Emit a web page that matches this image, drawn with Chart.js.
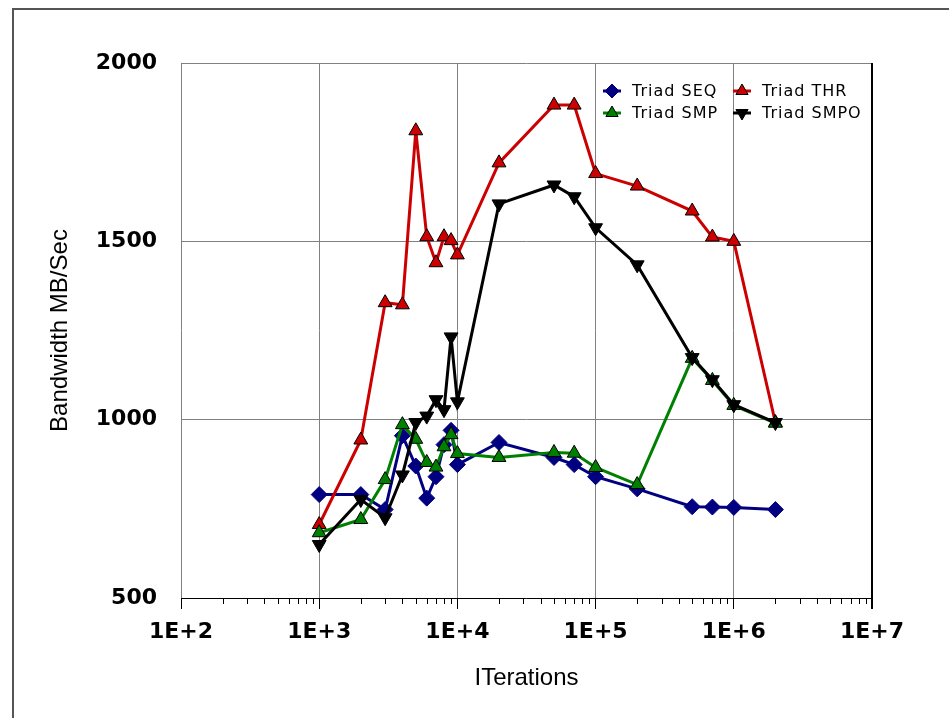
<!DOCTYPE html>
<html>
<head>
<meta charset="utf-8">
<script src="https://cdn.jsdelivr.net/npm/chart.js@4.4.0/dist/chart.umd.min.js"></script>
<style>
  body { margin: 0; background: #fff; }
  #frame { position: absolute; left: 12px; top: 8px; width: 1000px; height: 800px;
           border-left: 2px solid #555; border-top: 2px solid #555; }
  #myChart { position: absolute; left: 0; top: 0; }
</style>
</head>
<body>
<div id="frame"></div>
<canvas id="myChart" width="949" height="718"></canvas>
<script>
const iterations = [1000, 2000, 3000, 4000, 5000, 6000, 7000, 8000, 9000, 10000,
  20000, 50000, 70000, 100000, 200000, 500000, 700000, 1000000, 2000000];

const triadSEQ = [790, 790, 748, 955, 870, 780, 840, 930, 970, 874,
  936, 894, 874, 840, 806, 756, 755, 754, 748];
const triadSMP = [683, 720, 832, 986, 945, 880, 867, 924, 958, 905,
  894, 908, 906, 866, 818, 1172, 1110, 1040, 990];
const triadTHR = [706, 943, 1328, 1322, 1810, 1513, 1440, 1513, 1502, 1462,
  1720, 1882, 1882, 1690, 1655, 1585, 1512, 1500, 992];
const triadSMPO = [650, 776, 725, 845, 992, 1010, 1056, 1028, 1232, 1050,
  1605, 1658, 1625, 1538, 1434, 1174, 1112, 1042, 992];

const xTicks = [1e2, 1e3, 1e4, 1e5, 1e6, 1e7];
const yTicks = [500, 1000, 1500, 2000];

const pts = (arr) => arr.map((v, i) => ({ x: iterations[i], y: v }));

const data = {
  datasets: [
    {
      label: "Triad SEQ",
      data: pts(triadSEQ),
      borderColor: "#000080",
      backgroundColor: "#000080",
      pointStyle: "rectRot",
      pointRadius: 8,
      pointBorderColor: "#000080",
      order: 3,
    },
    {
      label: "Triad SMP",
      data: pts(triadSMP),
      borderColor: "#008000",
      backgroundColor: "#008000",
      pointStyle: "triangle",
      pointRadius: 8,
      pointBorderColor: "#000",
      order: 1,
    },
    {
      label: "Triad THR",
      data: pts(triadTHR),
      borderColor: "#cc0000",
      backgroundColor: "#cc0000",
      pointStyle: "triangle",
      pointRadius: 8,
      pointBorderColor: "#000",
      order: 2,
    },
    {
      label: "Triad SMPO",
      data: pts(triadSMPO),
      borderColor: "#000",
      backgroundColor: "#000",
      pointStyle: "triangle",
      pointRotation: 180,
      pointRadius: 8,
      pointBorderColor: "#000",
      order: 0,
    },
  ],
};

// legend inside the plot, two columns
const legendLayout = [
  { label: "Triad SEQ", col: 0, row: 0 },
  { label: "Triad THR", col: 1, row: 0 },
  { label: "Triad SMP", col: 0, row: 1 },
  { label: "Triad SMPO", col: 1, row: 1 },
];

function marker(ctx, ds, x, y, r) {
  ctx.save();
  ctx.fillStyle = ds.backgroundColor;
  ctx.strokeStyle = ds.pointBorderColor;
  ctx.lineWidth = 1;
  ctx.beginPath();
  if (ds.pointStyle === "rectRot") {
    ctx.moveTo(x, y - r); ctx.lineTo(x + r, y); ctx.lineTo(x, y + r); ctx.lineTo(x - r, y);
  } else if (ds.pointRotation === 180) {
    ctx.moveTo(x - r * 0.87, y - r * 0.5); ctx.lineTo(x + r * 0.87, y - r * 0.5); ctx.lineTo(x, y + r);
  } else {
    ctx.moveTo(x, y - r); ctx.lineTo(x + r * 0.87, y + r * 0.5); ctx.lineTo(x - r * 0.87, y + r * 0.5);
  }
  ctx.closePath();
  ctx.fill();
  ctx.stroke();
  ctx.restore();
}

const framePlugin = {
  id: "framePlugin",
  afterDraw(chart) {
    const { ctx, chartArea: a, scales } = chart;
    const xs = scales.x;
    ctx.save();
    // bottom axis line and right border
    ctx.strokeStyle = "#000";
    ctx.lineWidth = 1;
    ctx.beginPath();
    ctx.moveTo(a.left, a.bottom + 0.5);
    ctx.lineTo(a.right, a.bottom + 0.5);
    ctx.stroke();
    ctx.lineWidth = 2;
    ctx.beginPath();
    ctx.moveTo(a.right, a.top);
    ctx.lineTo(a.right, a.bottom + 11);
    ctx.stroke();
    // minor ticks
    ctx.lineWidth = 1;
    ctx.strokeStyle = "#000";
    ctx.beginPath();
    for (let k = 2; k < 7; k++) {
      for (let m = 2; m < 10; m++) {
        const px = Math.round(xs.getPixelForValue(m * Math.pow(10, k))) + 0.5;
        ctx.moveTo(px, a.bottom);
        ctx.lineTo(px, a.bottom + 6);
      }
    }
    ctx.stroke();

    // legend
    ctx.font = "16px 'DejaVu Sans'";
    ctx.textBaseline = "middle";
    ctx.fillStyle = "#000";
    if ("letterSpacing" in ctx) ctx.letterSpacing = "1px";
    legendLayout.forEach((item) => {
      const ds = chart.data.datasets.find((d) => d.label === item.label);
      const mx = a.right - 260 + item.col * 130;
      const my = a.top + 28 + item.row * 22;
      ctx.save();
      ctx.strokeStyle = ds.borderColor;
      ctx.lineWidth = 3;
      ctx.beginPath();
      ctx.moveTo(mx - 9, my);
      ctx.lineTo(mx + 9, my);
      ctx.stroke();
      ctx.restore();
      marker(ctx, ds, mx, my, 7);
      ctx.fillStyle = "#000";
      ctx.fillText(item.label, mx + 20, my + 1);
    });
    ctx.restore();
  },
};

const config = {
  type: "line",
  data,
  options: {
    responsive: false,
    animation: false,
    devicePixelRatio: 1,
    layout: { padding: { top: 63, right: 77, left: 0, bottom: 0 } },
    elements: {
      line: { borderWidth: 3, tension: 0 },
      point: { borderWidth: 1, hoverRadius: 8 },
    },
    plugins: {
      legend: { display: false },
      tooltip: { enabled: false },
    },
    scales: {
      x: {
        type: "logarithmic",
        min: 100,
        max: 1e7,
        afterBuildTicks: (scale) => {
          scale.ticks = xTicks.map((v) => ({ value: v, major: true }));
        },
        afterFit: (scale) => { scale.height = 120; },
        ticks: {
          autoSkip: false,
          maxRotation: 0,
          padding: 10,
          color: "#000",
          font: { family: "'DejaVu Sans'", size: 22, weight: "bold" },
          callback: (v) => "1E+" + Math.round(Math.log10(v)),
        },
        grid: {
          color: "#808080",
          lineWidth: 1,
          drawTicks: true,
          tickLength: 11,
          tickColor: "#000",
          tickWidth: 1,
        },
        border: { display: false },
        title: {
          display: true,
          text: "ITerations",
          color: "#000",
          font: { family: "'Liberation Sans'", size: 24 },
          padding: { top: 0, bottom: 25 },
        },
      },
      y: {
        min: 500,
        max: 2000,
        afterBuildTicks: (scale) => {
          scale.ticks = yTicks.map((v) => ({ value: v }));
        },
        afterFit: (scale) => { scale.width = 181; },
        ticks: {
          padding: 24,
          color: "#000",
          font: { family: "'DejaVu Sans'", size: 22, weight: "bold" },
          callback: (v) => String(v),
        },
        grid: { color: "#808080", lineWidth: 1, drawTicks: false },
        border: { display: false },
        title: {
          display: true,
          text: "Bandwidth MB/Sec",
          color: "#000",
          font: { family: "'Liberation Sans'", size: 24 },
          padding: { top: 46, bottom: 0 },
        },
      },
    },
  },
  plugins: [framePlugin],
};

const myChart = new Chart(document.getElementById("myChart"), config);
</script>
</body>
</html>
